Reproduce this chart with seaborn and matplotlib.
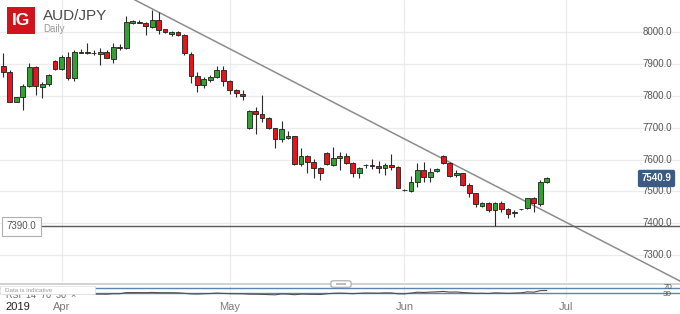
import numpy as np
import pandas as pd
import matplotlib
matplotlib.use("Agg")
import matplotlib.pyplot as plt
import matplotlib.transforms as mtransforms
from matplotlib.patches import Rectangle, FancyBboxPatch
import seaborn as sns

# ---------------- data ----------------
start_date = "2019-03-21"
opens = [7895, 7877, 7782, 7796, 7832, 7892, 7828, 7838, 7910, 7884, 7924, 7856, 7938, 7937, 7936, 7932, 7940, 7916, 7953, 7952,
         8029, 8032, 8029, 8018, 8039, 8010, 7994, 8003, 7992, 7931, 7864, 7835, 7851, 7861, 7881, 7848, 7818, 7808, 7700, 7753,
         7745, 7730, 7700, 7666, 7667, 7673, 7585, 7612, 7594, 7573, 7621, 7582, 7604, 7613, 7591, 7557, 7584, 7583, 7580, 7573,
         7583, 7578, 7505, 7502, 7531, 7566, 7547, 7564, 7613, 7591, 7552, 7557, 7520, 7494, 7454, 7463, 7442, 7465, 7446, 7431,
         7444, 7447, 7479, 7461, 7529]
closes = [7877, 7782, 7796, 7832, 7892, 7832, 7838, 7866, 7884, 7924, 7856, 7938, 7937, 7938, 7935, 7940, 7921, 7955, 7952, 8032,
          8035, 8031, 8020, 8039, 8008, 8002, 8003, 7991, 7935, 7864, 7835, 7853, 7861, 7881, 7848, 7819, 7809, 7801, 7753, 7745,
          7730, 7699, 7664, 7696, 7673, 7586, 7612, 7594, 7575, 7557, 7585, 7604, 7613, 7591, 7558, 7573, 7583, 7581, 7573, 7583,
          7578, 7512, 7504, 7531, 7566, 7547, 7562, 7571, 7589, 7550, 7557, 7520, 7494, 7461, 7463, 7442, 7465, 7446, 7429, 7436,
          7445, 7479, 7463, 7529, 7540.9]
highs = [7935, 7882, 7798, 7838, 7903, 7895, 7845, 7869, 7913, 7929, 7940, 7945, 7948, 7966, 7945, 7952, 7945, 7966, 7963, 8052,
         8039, 8039, 8034, 8071, 8064, 8012, 8006, 8005, 7995, 7938, 7877, 7861, 7866, 7895, 7895, 7851, 7821, 7819, 7756, 7767,
         7805, 7735, 7701, 7722, 7690, 7675, 7636, 7615, 7601, 7578, 7624, 7641, 7624, 7620, 7594, 7578, 7586, 7601, 7597, 7589,
         7617, 7580, 7508, 7549, 7590, 7592, 7573, 7573, 7615, 7594, 7568, 7559, 7528, 7496, 7468, 7468, 7468, 7469, 7447, 7442,
         7446, 7480, 7484, 7536, 7546]
lows = [7861, 7780, 7780, 7756, 7830, 7803, 7793, 7832, 7882, 7882, 7851, 7848, 7935, 7931, 7929, 7898, 7919, 7903, 7945, 7948,
        8027, 8029, 7992, 8013, 7994, 7998, 7990, 7989, 7929, 7840, 7814, 7825, 7845, 7856, 7832, 7807, 7798, 7788, 7697, 7681,
        7717, 7696, 7636, 7656, 7664, 7583, 7580, 7557, 7541, 7536, 7583, 7580, 7567, 7586, 7546, 7541, 7573, 7571, 7557, 7552,
        7568, 7510, 7502, 7499, 7513, 7531, 7531, 7562, 7588, 7545, 7545, 7517, 7484, 7452, 7450, 7436, 7391, 7436, 7416, 7419,
        7443, 7445, 7436, 7454, 7528]
trend_idx = [20, 105]
trend_val = [8106, 7214]
support_level = 7390.0
last_price = 7540.9
y_ticks = [7300, 7400, 7500, 7600, 7700, 7800, 7900, 8000]
month_labels = ["Apr", "May", "Jun", "Jul"]
month_numbers = [4, 5, 6, 7]
year_label = "2019"
title = "AUD/JPY"
subtitle = "Daily"

# ---------------- derived ----------------
n = len(opens)
dates_all = pd.date_range(start_date, "2019-07-20")
dates_all = dates_all[dates_all.dayofweek != 5]  # IG daily: no Saturday candles
month_pos = [int(np.argmax(dates_all.month == m)) for m in month_numbers]
df = pd.DataFrame({"i": np.arange(n), "open": opens, "close": closes, "high": highs, "low": lows})
df["up"] = df["close"] >= df["open"]

cl = pd.Series(closes)
d = cl.diff()
gain = d.clip(lower=0).ewm(alpha=1 / 14, adjust=False).mean()
loss = (-d.clip(upper=0)).ewm(alpha=1 / 14, adjust=False).mean()
rsi = 100 - 100 / (1 + gain / loss)
rsi_df = pd.DataFrame({"i": np.arange(n), "rsi": rsi}).iloc[14:]

# ---------------- style ----------------
sns.set_theme(style="white")
plt.rcParams["font.family"] = ["Liberation Sans", "DejaVu Sans"]

W, H = 680, 314
fig = plt.figure(figsize=(W / 100, H / 100), dpi=100)
main_bottom_px = 282
ax = fig.add_axes([0, 1 - main_bottom_px / H, 1, main_bottom_px / H])
px0, pxstep = 3.3, 6.47
ax.set_xlim(-px0 / pxstep, (W - px0) / pxstep)
ax.set_ylim(8000 - (main_bottom_px - 32.5) * 3.145, 8000 + 32.5 * 3.145)
for s in ax.spines.values():
    s.set_visible(False)
ax.set_xticks([])
ax.set_yticks([])

grid_c = "#ebebeb"
for v in y_ticks:
    ax.axhline(v, color=grid_c, lw=0.9, zorder=0)
for p in month_pos:
    ax.axvline(p, color=grid_c, lw=0.9, zorder=0)

# trend line
sns.lineplot(x=trend_idx, y=trend_val, ax=ax, color="#8c8c8c", lw=1.1, zorder=1)
# support line
ax.axhline(support_level, xmin=42 / W, xmax=1, color="#5a5a5a", lw=1.0, zorder=1)

# candles
ax.vlines(df["i"], df["low"], df["high"], color="#2b2b2b", lw=0.8, zorder=2)
body_lo = np.minimum(df["open"], df["close"])
body_h = np.maximum(np.abs(df["close"] - df["open"]), 1.5)
colors = np.where(df["up"], "#34a034", "#e3161c")
ax.bar(df["i"], body_h, bottom=body_lo, width=0.74, color=colors, edgecolor="#1e1e1e",
       linewidth=0.6, zorder=3)

# y labels on right inside
tr = mtransforms.blended_transform_factory(ax.transAxes, ax.transData)
for v in y_ticks:
    ax.text(672 / W, v, f"{v:.1f}", transform=tr, ha="right", va="center", fontsize=7, color="#555555", zorder=5)

# last price tag
ax.text(656.5 / W, last_price, f"{last_price:.1f}", transform=tr, ha="center", va="center", fontsize=7,
        color="white", fontweight="bold", zorder=6,
        bbox=dict(boxstyle="round,pad=0.38,rounding_size=0.2", fc="#3b5a84", ec="none"))
# support label
ax.text(21.5 / W, support_level, f"{support_level:.1f}", transform=tr, ha="center", va="center", fontsize=7,
        color="#555555", zorder=6,
        bbox=dict(boxstyle="square,pad=0.5", fc="white", ec="#b0b0b0", lw=0.8))

# month labels
trx = mtransforms.blended_transform_factory(ax.transData, ax.transAxes)
for p, lab in zip(month_pos, month_labels):
    ax.text(p, (main_bottom_px - 306.5) / main_bottom_px, lab, transform=trx, ha="center", va="center",
            fontsize=8, color="#7a7a7a", clip_on=False)
fig.text(5 / W, 1 - 306.5 / H, year_label, ha="left", va="center", fontsize=8, color="#222222")

# title and logo
fig.patches.append(Rectangle((7 / W, 1 - 34.3 / H), 27.7 / W, 27.6 / H, transform=fig.transFigure,
                             fc="#d0141c", ec="none"))
fig.text(21 / W, 1 - 20.8 / H, "IG", ha="center", va="center", fontsize=12.5, color="white", fontweight="bold")
fig.text(42.5 / W, 1 - 15.5 / H, title, ha="left", va="center", fontsize=11, color="#4a4a4a")
fig.text(43 / W, 1 - 29.5 / H, subtitle, ha="left", va="center", fontsize=7, color="#9a9a9a")

# separator
fig.patches.append(Rectangle((0, 1 - 285.3 / H), 1, 2.6 / H, transform=fig.transFigure, fc="#d2d2d2", ec="none"))

# RSI panel
rax = fig.add_axes([0, 1 - 297.5 / H, 1, 12 / H])
rax.set_xlim(ax.get_xlim())
rax.set_ylim(-3.6, 92.4)
for s in rax.spines.values():
    s.set_visible(False)
rax.set_xticks([])
rax.set_yticks([])
rax.patch.set_alpha(0)
for p in month_pos:
    rax.axvline(p, color=grid_c, lw=0.9, zorder=0)
rax.axhline(70, color="#5b84b3", lw=1.0, zorder=1)
rax.axhline(30, color="#5b84b3", lw=1.0, zorder=1)
sns.lineplot(data=rsi_df, x="i", y="rsi", ax=rax, color="#4f4f4f", lw=0.8, zorder=2)
fig.text(672 / W, 1 - 287.6 / H, "70", ha="right", va="center", fontsize=5.8, color="#555555")
fig.text(672 / W, 1 - 294.4 / H, "30", ha="right", va="center", fontsize=5.8, color="#555555")
fig.text(6 / W, 1 - 296 / H, "RSI  14  70  30  \u00d7", ha="left", va="center", fontsize=6.5, color="#666666")
fig.patches.append(Rectangle((0, 1 - 294 / H), 95 / W, 8 / H, transform=fig.transFigure,
                             fc="white", ec="#dddddd", lw=0.5, zorder=5))
fig.text(5 / W, 1 - 290 / H, "Data is indicative", ha="left", va="center", fontsize=4.5, color="#9a9a9a",
         zorder=6)

# scroll handle
fig.patches.append(FancyBboxPatch((331 / W, 1 - 287.3 / H), 20 / W, 6.5 / H, transform=fig.transFigure,
                                  boxstyle="round,pad=0,rounding_size=0.004", fc="white", ec="#a8a8a8", lw=0.8))
fig.patches.append(Rectangle((336 / W, 1 - 285 / H), 10 / W, 2 / H, transform=fig.transFigure,
                             fc="#bdbdbd", ec="none"))

fig.savefig("out.png", dpi=100, facecolor="white")
